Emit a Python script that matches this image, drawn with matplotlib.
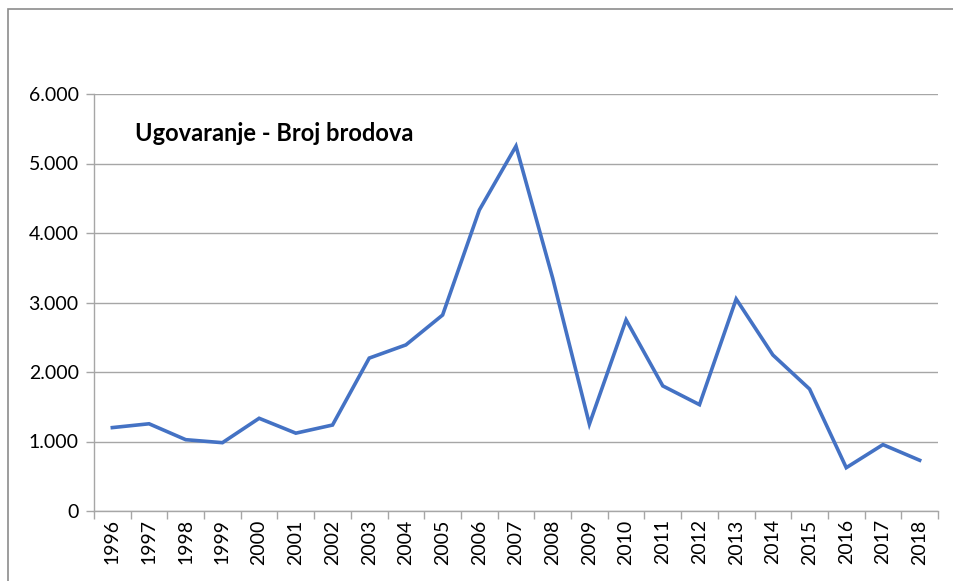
import matplotlib
matplotlib.use("Agg")
import matplotlib.pyplot as plt
import numpy as np
from matplotlib.patches import Rectangle

# data
years = [str(y) for y in range(1996, 2019)]
ships = [1200, 1255, 1026, 983, 1334, 1120, 1237, 2200, 2390, 2820, 4330, 5250,
         3350, 1250, 2750, 1800, 1530, 3050, 2245, 1755, 623, 955, 730]
yticks = [0, 1000, 2000, 3000, 4000, 5000, 6000]
ytick_labels = ["0", "1.000", "2.000", "3.000", "4.000", "5.000", "6.000"]
title = "Ugovaranje - Broj brodova"

plt.rcParams['font.family'] = ['Lato', 'DejaVu Sans']
grid_col = "#a6a6a6"

fig = plt.figure(figsize=(9.54, 5.81), dpi=100)
ax = fig.add_axes([94 / 954, 1 - 511 / 581, (938 - 94) / 954, (511 - 94) / 581])

x = np.arange(len(years))
ax.plot(x, ships, color="#4472c4", linewidth=2.6, solid_joinstyle="miter")

ax.set_xlim(-0.5, len(years) - 0.5)
ax.set_ylim(0, 6000)

# category boundaries get the tick marks, labels sit in the middle
ax.set_xticks(np.arange(-0.5, len(years)), minor=False)
ax.set_xticklabels([])
ax.set_xticks(x, minor=True)
ax.set_xticklabels(years, minor=True, rotation=90, fontsize=14)
ax.tick_params(axis="x", which="major", length=6, color=grid_col, width=1)
ax.tick_params(axis="x", which="minor", length=0, pad=6)

ax.set_yticks(yticks)
ax.set_yticklabels(ytick_labels, fontsize=14)
ax.tick_params(axis="y", length=6, color=grid_col, width=1, pad=5)

ax.grid(axis="y", color=grid_col, linewidth=1)
ax.set_axisbelow(True)
for side in ["top", "right"]:
    ax.spines[side].set_visible(False)
for side in ["left", "bottom"]:
    ax.spines[side].set_color(grid_col)
    ax.spines[side].set_linewidth(1)

ax.text(0.049, 0.905, title, transform=ax.transAxes, fontsize=17,
        fontweight="bold", va="center", ha="left")

# outer chart border (only top and left are visible in the crop)
fig.patches.append(Rectangle((8 / 954, -0.5), 2, 1.5 - 9 / 581, transform=fig.transFigure,
                             fill=False, edgecolor="#8c8c8c", linewidth=1.2))

fig.savefig("out.png", dpi=100)
